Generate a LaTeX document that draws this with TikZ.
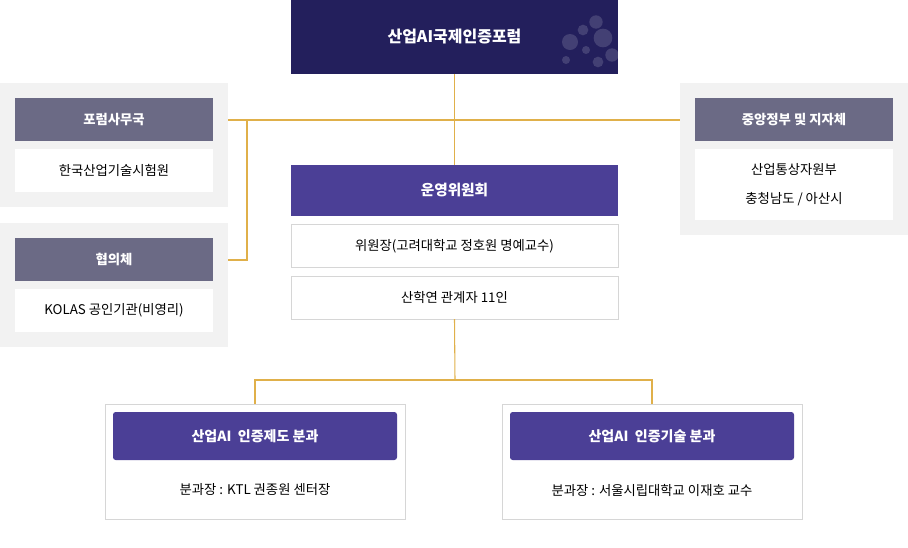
\documentclass[tikz,border=0pt]{standalone}
\usepackage{fontspec}
\setmainfont{Noto Sans CJK KR}
\usetikzlibrary{positioning}
\definecolor{navy}{HTML}{231F5C}
\definecolor{greyhead}{HTML}{6B6A85}
\definecolor{purp}{HTML}{4B3F96}
\definecolor{panel}{HTML}{F2F2F2}
\definecolor{gold}{HTML}{E0B04A}
\definecolor{edge}{HTML}{D6D6D6}

\begin{document}
\begin{tikzpicture}[x=0.75pt, y=-0.75pt,
    head/.style={fill=greyhead, text=white, font=\bfseries\fontsize{10}{12}\selectfont, minimum width=148.5pt, minimum height=32pt, inner sep=0pt},
    info/.style={fill=white, font=\fontsize{10}{12}\selectfont, minimum width=148.5pt, minimum height=32pt, inner sep=0pt, align=center},
    centhead/.style={fill=purp, text=white, font=\bfseries\fontsize{11}{13}\selectfont, minimum width=245pt, minimum height=38pt, inner sep=0pt},
    centinfo/.style={fill=white, draw=edge, font=\fontsize{10}{12}\selectfont, minimum width=245pt, minimum height=32pt, inner sep=0pt},
    subhead/.style={fill=purp, text=white, rounded corners=2pt, font=\bfseries\fontsize{10.5}{12}\selectfont, minimum width=213pt, minimum height=36pt, inner sep=0pt},
    link/.style={draw=gold, line width=0.8pt}
]
    \useasboundingbox (0,0) rectangle (908,547);

    % Forum
    \node[fill=navy, text=white, font=\bfseries\fontsize{12}{14}\selectfont, minimum width=245pt, minimum height=55.5pt, inner sep=0pt] (forum) at (454.5,37) {산업AI국제인증포럼};
    \foreach \px/\py/\r in {570/42/6, 583/30/4, 596/22/5, 603/38/7, 586/50/3, 612/55/5, 566/60/3, 598/62/4}
        \fill[white, opacity=0.15] (\px,\py) circle (\r pt);

    % Panels
    \fill[panel] (0,83) rectangle (228,207);
    \fill[panel] (0,223) rectangle (228,347);
    \fill[panel] (680,83) rectangle (908,235);

    \node[head] (secr) at (114,119.5) {포럼사무국};
    \node[info] (secrinfo) at (114,170.5) {한국산업기술시험원};
    \node[head] (council) at (114,259.5) {협의체};
    \node[info] (councilinfo) at (114,310.5) {KOLAS 공인기관(비영리)};
    \node[head] (gov) at (794,119.5) {중앙정부 및 지자체};
    \node[info, minimum height=53pt, font=\fontsize{10}{22}\selectfont] (govinfo) at (794,184.5) {산업통상자원부\\충청남도 / 아산시};

    % Committee
    \node[centhead] (comm) at (454.5,190.5) {운영위원회};
    \node[centinfo] (chair) at (454.5,246) {위원장(고려대학교 정호원 명예교수)};
    \node[centinfo] (members) at (454.5,297.5) {산학연 관계자 11인};

    % Subcommittees
    \node[fill=white, draw=edge, minimum width=225pt, minimum height=86pt, inner sep=0pt] (subA) at (255,461.5) {};
    \node[fill=white, draw=edge, minimum width=225pt, minimum height=86pt, inner sep=0pt] (subB) at (652,461.5) {};
    \node[subhead] (subAhead) at (255,436) {산업AI \ 인증제도 분과};
    \node[subhead] (subBhead) at (652,436) {산업AI \ 인증기술 분과};
    \node[font=\fontsize{10}{12}\selectfont] (subAtext) at (255,490) {분과장 : KTL 권종원 센터장};
    \node[font=\fontsize{10}{12}\selectfont] (subBtext) at (652,490) {분과장 : 서울시립대학교 이재호 교수};

    % Connectors
    \coordinate (hub) at (455,120);
    \coordinate (lpanel) at (228,120);
    \coordinate (rpanel) at (680,120);
    \coordinate (lbend) at (247,120);
    \coordinate (lfoot) at (228,260);
    \coordinate (split) at (455,380);
    \draw[link] (forum.south) -- (comm.north);
    \draw[link] (lpanel) -- (rpanel);
    \draw[link] (lbend) |- (lfoot);
    \draw[link] (members.south) -- (split);
    \draw[link] (subA.north) |- (split) -| (subB.north);
\end{tikzpicture}
\end{document}
